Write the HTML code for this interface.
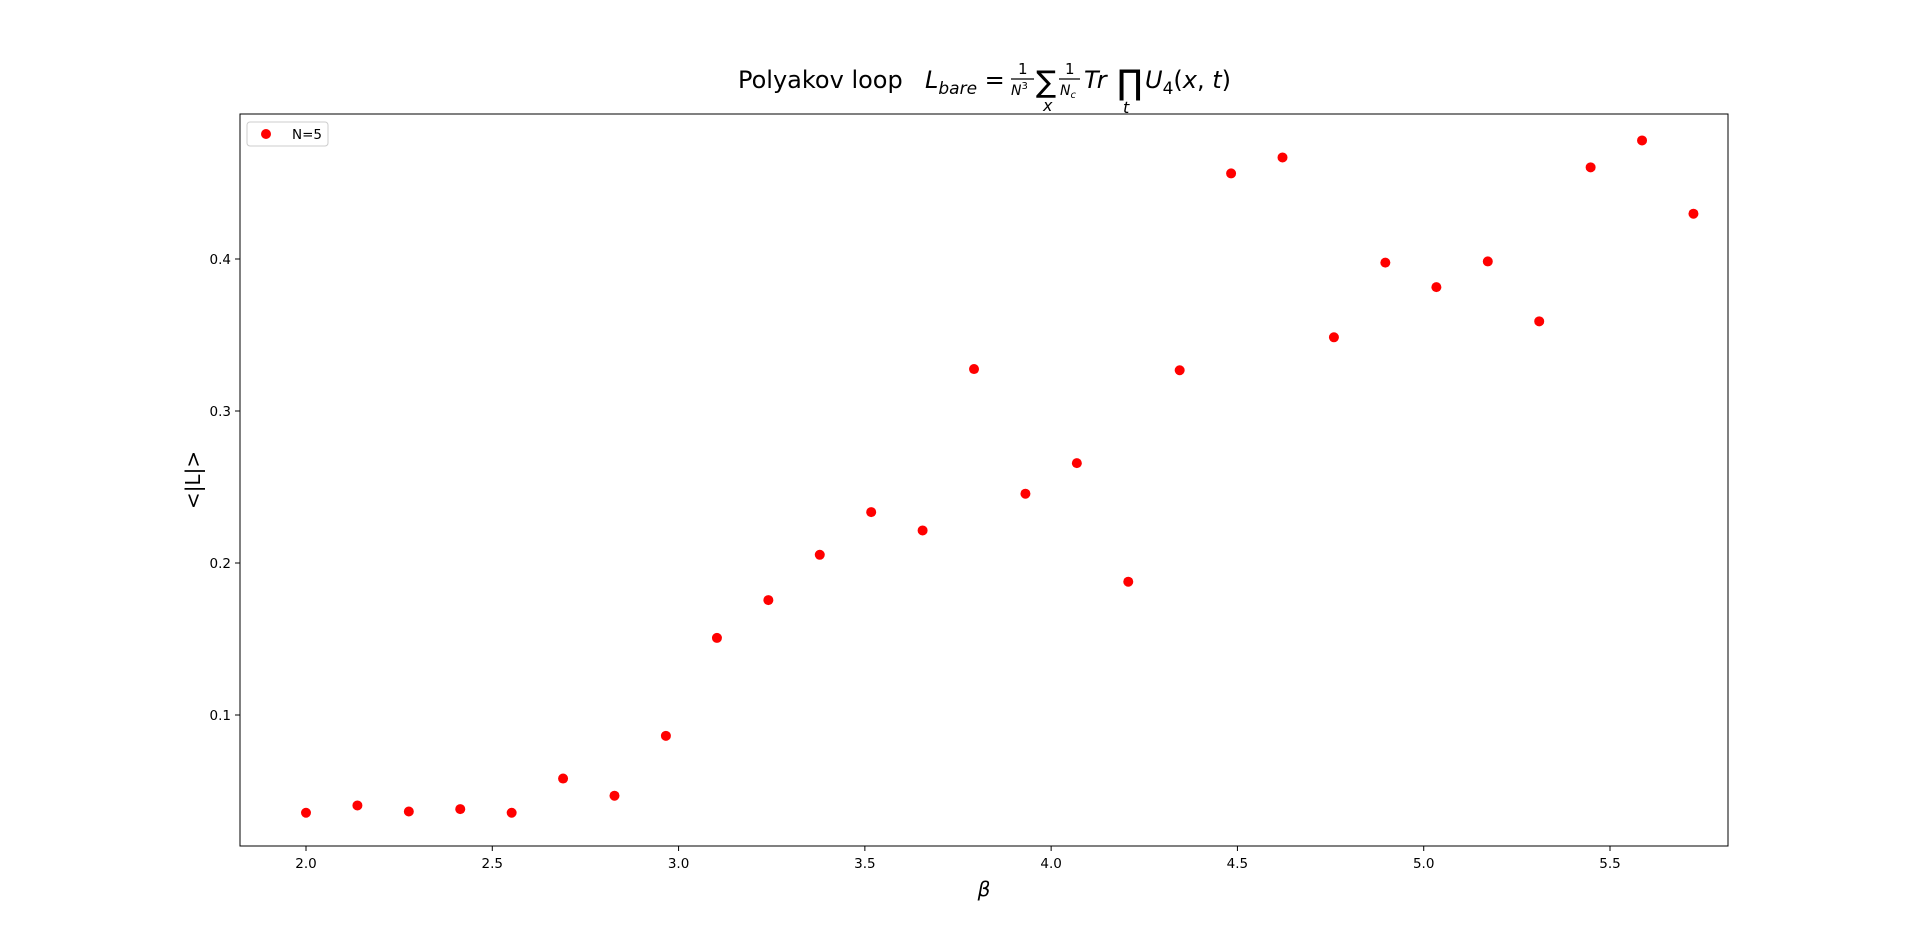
<!DOCTYPE html>
<html><head><meta charset="utf-8"><style>
html,body{margin:0;padding:0;background:#fff;}
svg{display:block;font-family:"DejaVu Sans","Liberation Sans",sans-serif;}
</style></head><body>
<svg id="chart" width="1920" height="951" viewBox="0 0 1920 951" xmlns="http://www.w3.org/2000/svg">
<g font-size="24">
<text x="738" y="88">Polyakov loop</text>
<text x="925" y="88" font-style="italic">L<tspan font-size="17" dy="6">bare</tspan><tspan dy="-6" font-style="normal"> =</tspan></text>
<text x="1018" y="74" font-size="15">1</text>
<line x1="1011" y1="79" x2="1034" y2="79" stroke="#000" stroke-width="1.2"/>
<text x="1011" y="95" font-size="14" font-style="italic">N<tspan font-size="10" dy="-6" font-style="normal">3</tspan></text>
<text x="1036" y="92" font-size="30">∑</text>
<text x="1043" y="111" font-size="16" font-style="italic">x</text>
<text x="1065" y="74" font-size="15">1</text>
<line x1="1059" y1="79" x2="1080" y2="79" stroke="#000" stroke-width="1.2"/>
<text x="1060" y="95" font-size="14" font-style="italic">N<tspan font-size="10" dy="3">c</tspan></text>
<text x="1084" y="88" font-style="italic">Tr</text>
<text x="1117" y="94" font-size="34">∏</text>
<text x="1123" y="113" font-size="16" font-style="italic">t</text>
<text x="1145" y="88" font-style="italic">U<tspan font-size="17" dy="6" font-style="normal">4</tspan><tspan dy="-6" font-style="normal">(</tspan>x<tspan font-style="normal">, </tspan>t<tspan font-style="normal">)</tspan></text>
</g>
<rect x="240" y="114" width="1488" height="732" fill="none" stroke="#000" stroke-width="1"/>
<g id="xticks" font-size="13.5"></g>
<g id="yticks" font-size="13.5"></g>
<text x="984" y="896" font-size="20" font-style="italic" text-anchor="middle">β</text>
<text transform="translate(200,480) rotate(-90)" font-size="20" text-anchor="middle">&lt;|L|&gt;</text>
<g id="points"></g>
<g>
<rect x="247" y="122" width="81" height="24" rx="3" fill="#fff" stroke="#ccc"/>
<circle cx="266" cy="134" r="5" fill="#ff0000"/>
<text x="292" y="139" font-size="13.5">N=5</text>
</g>
</svg>
<script>
const betas = [2.0,2.138,2.276,2.414,2.552,2.69,2.828,2.966,3.103,3.241,3.379,3.517,3.655,3.793,3.931,4.069,4.207,4.345,4.483,4.621,4.759,4.897,5.034,5.172,5.31,5.448,5.586,5.724];
const loopVals = [0.0357,0.0405,0.0365,0.0381,0.0357,0.0582,0.0469,0.0863,0.1507,0.1756,0.2054,0.2335,0.2214,0.3276,0.2456,0.2657,0.1877,0.3268,0.4563,0.4668,0.3485,0.3976,0.3815,0.3984,0.359,0.4603,0.478,0.4298];
const xTickVals = [2.0,2.5,3.0,3.5,4.0,4.5,5.0,5.5];
const xTickLabels = ["2.0","2.5","3.0","3.5","4.0","4.5","5.0","5.5"];
const yTickVals = [0.1,0.2,0.3,0.4];
const yTickLabels = ["0.1","0.2","0.3","0.4"];
const NS='http://www.w3.org/2000/svg';
function xs(v){return 306+(v-2.0)*(1304/3.5);}
function ys(v){return 259-(v-0.4)*1520;}
const xg=document.getElementById('xticks');
xTickVals.forEach((v,i)=>{
  const l=document.createElementNS(NS,'line');
  l.setAttribute('x1',xs(v));l.setAttribute('x2',xs(v));l.setAttribute('y1',846);l.setAttribute('y2',851);l.setAttribute('stroke','#000');
  
  
  xg.appendChild(l);
  const t=document.createElementNS(NS,'text');
  t.setAttribute('x',xs(v));t.setAttribute('y',868);t.setAttribute('text-anchor','middle');t.textContent=xTickLabels[i];
  
  
  xg.appendChild(t);
});
const yg=document.getElementById('yticks');
yTickVals.forEach((v,i)=>{
  const l=document.createElementNS(NS,'line');
  l.setAttribute('x1',235);l.setAttribute('x2',240);l.setAttribute('y1',ys(v));l.setAttribute('y2',ys(v));l.setAttribute('stroke','#000');
  
  
  yg.appendChild(l);
  const t=document.createElementNS(NS,'text');
  t.setAttribute('x',231);t.setAttribute('y',ys(v)+5);t.setAttribute('text-anchor','end');t.textContent=yTickLabels[i];
  
  
  yg.appendChild(t);
});
const pg=document.getElementById('points');
betas.forEach((b,i)=>{
  const c=document.createElementNS(NS,'circle');
  c.setAttribute('cx',xs(b));c.setAttribute('cy',ys(loopVals[i]));c.setAttribute('r',5);c.setAttribute('fill','#ff0000');
  
  
  pg.appendChild(c);
});
</script>
</body></html>
